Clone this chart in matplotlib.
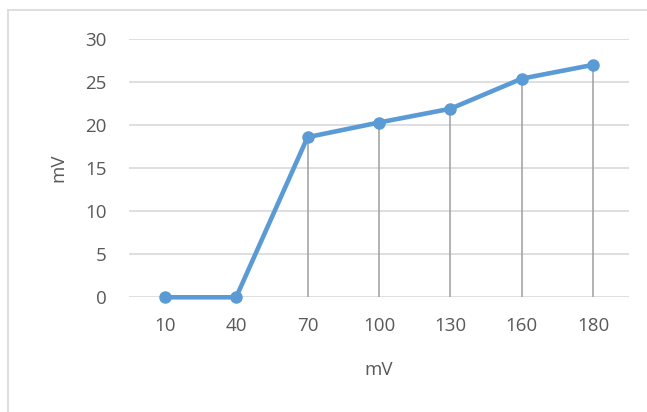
import matplotlib
matplotlib.use("Agg")
from matplotlib import pyplot as plt
from matplotlib.lines import Line2D

categories = ["10", "40", "70", "100", "130", "160", "180"]
values = [0, 0, 18.6, 20.3, 21.9, 25.4, 27.0]
yticks = [0, 5, 10, 15, 20, 25, 30]

plt.rcParams['font.family'] = ['Open Sans', 'DejaVu Sans']

fig = plt.figure(figsize=(6.47, 4.12), dpi=100)
ax = fig.add_axes([129/647, 1-297.3/412, 500/647, (297.3-39)/412])

blue = '#5b9bd5'
txt = '#595959'
x = list(range(len(categories)))

# drop lines from points to the axis
ax.vlines(x, 0, values, color='#a5a5a5', lw=1.2, zorder=2)
ax.plot(x, values, color=blue, lw=3.3, marker='o', markersize=8,
        solid_capstyle='round', solid_joinstyle='round', zorder=3, clip_on=False)

ax.set_xlim(-0.5, len(categories) - 0.5)
ax.set_ylim(0, 30)
ax.set_xticks(x)
ax.set_xticklabels(categories)
ax.set_yticks(yticks)
ax.tick_params(length=0, colors=txt, labelsize=13.5)
ax.tick_params(axis='y', pad=16)
ax.tick_params(axis='x', pad=14)
ax.yaxis.grid(True, color='#d9d9d9', lw=1.2, zorder=0)
ax.set_axisbelow(True)
for s in ax.spines.values():
    s.set_visible(False)

ax.set_xlabel("mV", color=txt, fontsize=13.5, labelpad=19)
ax.set_ylabel("mV", color=txt, fontsize=13.5, labelpad=13)

# chart border (top and left visible)
fig.add_artist(Line2D([8/647, 1], [1-10/412, 1-10/412], color='#d9d9d9', lw=1.2))
fig.add_artist(Line2D([8/647, 8/647], [0, 1-10/412], color='#d9d9d9', lw=1.2))

plt.savefig("out.png", dpi=100)
